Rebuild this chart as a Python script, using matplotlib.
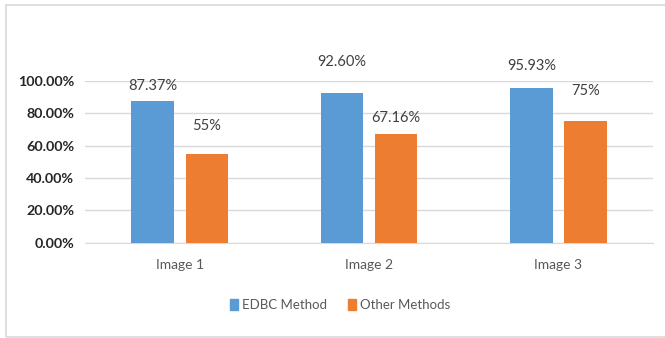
import numpy as np
import matplotlib.pyplot as plt
from matplotlib.patches import Rectangle, Patch
from matplotlib.ticker import PercentFormatter

categories = ['Image 1', 'Image 2', 'Image 3']
edbc = [87.37, 92.60, 95.93]
other = [55, 67.16, 75]
edbc_labels = ['87.37%', '92.60%', '95.93%']
other_labels = ['55%', '67.16%', '75%']

blue = '#5B9BD5'
orange = '#ED7D31'
grid_c = '#D9D9D9'
text_c = '#595959'

plt.rcParams['font.family'] = ['Lato', 'DejaVu Sans']

fig = plt.figure(figsize=(6.65, 3.38), dpi=100)
ax = fig.add_axes([0.128, 0.2825, 0.854, 0.4777])

# chart frame
fig.patches.append(Rectangle((6 / 665, 0.003), 1.0, 1 - 5 / 338 - 0.003,
                             transform=fig.transFigure, fill=False,
                             edgecolor=grid_c, linewidth=1.2))

x = np.arange(len(categories))
w = 0.225
off = 0.143
ax.bar(x - off, edbc, w, color=blue, zorder=3)
ax.bar(x + off, other, w, color=orange, zorder=3)

# data labels (nudged by hand, pixels above bar top)
edbc_dy = [15, 31, 22]
other_dy = [28, 16, 30]
for i in range(len(categories)):
    ax.annotate(edbc_labels[i], (x[i] - off, edbc[i]), xytext=(0, edbc_dy[i]),
                textcoords='offset pixels', ha='center', va='center',
                fontsize=10.5, color='#404040')
    ax.annotate(other_labels[i], (x[i] + off, other[i]), xytext=(0, other_dy[i]),
                textcoords='offset pixels', ha='center', va='center',
                fontsize=10.5, color='#404040')

ax.set_xlim(-0.5, 2.5)
ax.set_ylim(0, 100)
ax.set_yticks(np.arange(0, 101, 20))
ax.yaxis.set_major_formatter(PercentFormatter(decimals=2))
ax.set_xticks(x)
ax.set_xticklabels(categories)
ax.grid(axis='y', color=grid_c, linewidth=1, zorder=0)
for s in ax.spines.values():
    s.set_visible(False)
ax.spines['bottom'].set_visible(True)
ax.spines['bottom'].set_color(grid_c)
ax.tick_params(axis='both', length=0)
ax.tick_params(axis='y', pad=8)
ax.tick_params(axis='x', pad=12)
for t in ax.get_yticklabels():
    t.set_fontweight('bold')
    t.set_fontsize(10.3)
    t.set_color('#262626')
for t in ax.get_xticklabels():
    t.set_fontsize(10)
    t.set_color(text_c)

handles = [Patch(color=blue, label='EDBC Method'),
           Patch(color=orange, label='Other Methods')]
fig.legend(handles=handles, loc='center', bbox_to_anchor=(0.512, 0.098),
           ncol=2, frameon=False, fontsize=9.5, labelcolor=text_c,
           handlelength=0.6, handleheight=1.0, handletextpad=0.3,
           columnspacing=1.6)

fig.savefig('out.png', dpi=100)
